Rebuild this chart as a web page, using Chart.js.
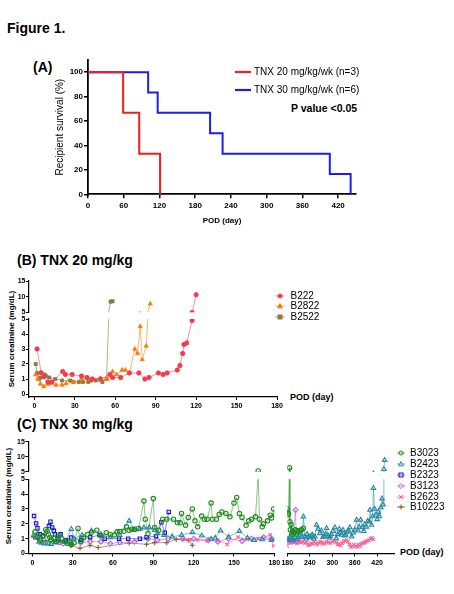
<!DOCTYPE html>
<html lang="en">
<head>
<meta charset="utf-8">
<title>Figure 1</title>
<script src="https://cdn.jsdelivr.net/npm/chart.js@4.4.1/dist/chart.umd.min.js"></script>
<style>
  html, body { margin: 0; padding: 0; background: #fff; }
  #page { position: relative; width: 454px; height: 594px; overflow: hidden; background: #fff;
          font-family: 'Liberation Sans', Arial, sans-serif; color: #000; }
  #page canvas { position: absolute; }
  .t { position: absolute; white-space: nowrap; line-height: 1; }
  .h { font-weight: bold; font-size: 14px; }
  .ytitle { position: absolute; white-space: nowrap; line-height: 1; font-size: 8px; font-weight: bold;
            transform: translate(-50%, -50%) rotate(-90deg); }
  .lg { position: absolute; }
  .lg svg { display: block; }
</style>
</head>
<body>
<div id="page">
  <div class="t h" style="left:7px; top:21px">Figure 1.</div>
  <div class="t h" style="left:33px; top:60px">(A)</div>
  <div class="t h" style="left:17px; top:253px">(B) TNX 20 mg/kg</div>
  <div class="t h" style="left:17px; top:417px">(C) TNX 30 mg/kg</div>
  <div class="t" style="left:291px; top:103px; font-size:10.5px; font-weight:bold">P value &lt;0.05</div>
  <div class="ytitle" style="left:12px; top:339px">Serum creatinine (mg/dL)</div>
  <div class="ytitle" style="left:9px; top:496px">Serum creatinine (mg/dL)</div>
  <div class="t" style="left:290px; top:393px; font-size:9px; font-weight:bold">POD (day)</div>
  <div class="t" style="left:400px; top:548px; font-size:9px; font-weight:bold">POD (day)</div>
  <canvas id="chartA"></canvas>
  <canvas id="chartBHigh"></canvas>
  <canvas id="chartBLow"></canvas>
  <canvas id="chartCHighL"></canvas>
  <canvas id="chartCLowL"></canvas>
  <canvas id="chartCHighR"></canvas>
  <canvas id="chartCLowR"></canvas>
</div>
<script>
// ---------- Panel A: recipient survival ----------
const kmLabels = ['TNX 20 mg/kg/wk (n=3)', 'TNX 30 mg/kg/wk (n=6)'];
const km20Days = [0, 59, 86, 121];
const km20Surv = [100, 66.7, 33.3, 0];
const km30Days = [0, 101, 117, 205, 226, 406, 441];
const km30Surv = [100, 83.3, 66.7, 50, 33.3, 16.7, 0];
const kmXTicks = [0, 60, 120, 180, 240, 300, 360, 420];
const kmYTicks = [0, 20, 40, 60, 80, 100];

// ---------- Panel B: TNX 20 mg/kg ----------
const bNames = ['B222', 'B2822', 'B2522'];
const b222Days = [2, 5, 7, 10, 13, 21, 23, 28, 35, 39, 43, 49, 56, 58, 64, 70.5, 77.5, 82, 85, 92, 95.5, 98.5, 106, 108, 110, 111, 113, 117, 120];
const b222Vals = [3.0, 1.42, 1.15, 0.8, 0.8, 1.5, 1.3, 1.3, 1.2, 1.1, 1.0, 1.0, 1.3, 1.1, 1.1, 1.4, 1.4, 1.0, 1.1, 1.4, 1.3, 1.4, 1.6, 1.9, 2.7, 3.3, 3.4, 4.9, 10.6];
const b2822Days = [1, 2.5, 4.5, 7, 10, 11, 16, 20.5, 23.5, 29, 35, 40, 49, 54, 58, 61, 65, 67.5, 70.5, 74.5, 76.5, 78.5, 80, 83, 86];
const b2822Vals = [1.3, 1.0, 0.67, 0.5, 0.67, 0.7, 0.6, 0.6, 0.7, 0.8, 1.0, 1.0, 1.05, 1.0, 1.5, 1.3, 1.6, 1.6, 1.4, 3.0, 2.7, 4.5, 2.3, 3.2, 7.7];
const b2522Days = [1, 2, 3.5, 4.5, 7.5, 8.5, 11, 15.5, 20.5, 26.5, 29, 33, 36, 40, 42, 45.5, 50.5, 53.5, 56.5, 58];
const b2522Vals = [2.0, 1.4, 1.0, 1.1, 1.3, 1.2, 1.1, 1.0, 0.9, 0.9, 0.8, 0.8, 0.8, 0.8, 0.9, 0.9, 0.8, 1.0, 8.4, 8.5];

// ---------- Panel C: TNX 30 mg/kg ----------
const cNames = ['B3023', 'B2423', 'B2323', 'B3123', 'B2623', 'B10223'];
const b3023Days = [2, 4, 6, 8, 10, 11, 12, 13, 14, 16, 18, 20, 22, 24, 26, 28, 29, 31, 34, 36, 38, 41, 44, 48, 51, 55, 58, 61, 63, 65, 68, 70, 72, 74, 76, 79, 83, 84, 86, 90, 91, 94, 97, 100, 105, 108, 110, 111, 114, 116, 119, 121, 123, 126, 128, 130, 133, 134, 137, 139, 141, 144, 147, 150, 152, 154, 156, 159, 161, 163, 166, 168, 169, 171, 172, 175, 177, 178, 179.5,
                   181, 183, 186, 187, 188, 190, 192, 194, 197, 201, 205, 209, 214, 218, 223];
const b3023Vals = [1.46, 1.17, 0.9, 1.2, 1.6, 1.5, 1.28, 1.08, 0.94, 1.0, 0.8, 1.2, 1.0, 0.83, 0.67, 0.72, 0.6, 0.72, 1.69, 0.83, 1.05, 1.28, 1.44, 1.57, 1.2, 1.4, 1.28, 1.24, 1.46, 1.48, 1.5, 1.8, 1.57, 1.64, 1.64, 1.69, 3.53, 2.31, 1.35, 3.7, 1.75, 1.57, 2.31, 2.31, 2.31, 2.07, 2.07, 2.7, 1.9, 2.43, 3.0, 2.2, 1.8, 2.52, 2.3, 2.31, 3.4, 2.31, 2.31, 2.63, 2.8, 2.7, 2.47, 3.4, 3.78, 2.7, 2.43, 1.9, 2.2, 2.31, 2.47, 5.3, 2.31, 1.8, 2.0, 2.2, 2.58, 2.4, 3.0,
                   2.6, 2.7, 6.4, 2.14, 1.6, 1.95, 1.3, 1.5, 1.4, 1.6, 1.55, 1.5, 1.55, 1.6, 1.7];
const b2423Days = [1, 3, 5, 7, 9, 12, 14, 17, 20, 24, 29, 31, 37, 44, 51, 58, 65, 72, 76, 80, 83, 87, 91, 93, 98, 104, 111, 119, 126, 133, 136, 140, 146, 154, 160, 165, 171, 178,
                   182, 184, 189, 193, 196, 200, 203, 206, 209, 213, 216, 220, 223, 227, 230, 233, 237, 240, 244, 247, 251, 254, 258, 263, 267, 271, 275, 279, 282, 285, 289, 292, 295, 298, 302, 307, 311, 315, 319, 322, 325, 329, 333, 336, 340, 343, 347, 352, 356, 360, 365, 369, 372, 376, 381, 384, 387, 391, 395, 399, 401, 405, 408, 410, 413, 416, 420, 423, 426, 430, 433, 436, 438, 440];
const b2423Vals = [1.24, 1.08, 0.79, 0.72, 0.67, 0.67, 0.63, 0.75, 0.9, 0.8, 1.64, 1.0, 1.24, 1.53, 1.28, 1.08, 1.24, 2.2, 1.6, 1.65, 1.75, 1.75, 1.57, 1.35, 1.24, 1.13, 1.24, 1.43, 1.2, 0.98, 1.05, 1.54, 1.12, 1.5, 1.05, 0.9, 0.95, 0.9,
                   1.0, 0.9, 1.13, 0.95, 0.9, 1.1, 1.25, 1.0, 1.07, 1.2, 1.36, 1.1, 2.48, 1.13, 1.0, 1.3, 1.15, 1.07, 1.2, 1.25, 1.0, 1.13, 1.92, 1.65, 1.36, 1.54, 1.1, 1.18, 1.3, 1.7, 1.2, 1.07, 1.15, 1.3, 1.5, 1.76, 1.02, 1.3, 1.65, 1.4, 1.25, 1.58, 1.2, 1.25, 1.45, 1.54, 1.76, 1.13, 1.4, 1.6, 2.26, 1.54, 1.8, 2.26, 1.76, 1.5, 1.96, 1.8, 2.2, 2.14, 2.93, 1.92, 2.5, 4.4, 3.0, 2.6, 2.3, 2.8, 2.5, 3.1, 3.7, 3.3, 5.9, 8.9];
const b2323Days = [1.3, 2.8, 3.8, 5.5, 8, 12.3, 13.5, 14.8, 16, 16.8, 19, 21, 25, 28.8, 36.3, 43, 50, 53.8, 64.5, 71.3, 80, 85, 92, 96, 98.5, 101.5];
const b2323Vals = [2.52, 2.03, 1.7, 1.29, 1.17, 1.85, 2.14, 1.76, 1.53, 1.29, 1.0, 1.29, 0.9, 1.07, 0.92, 1.1, 1.24, 1.0, 1.0, 1.0, 1.0, 1.1, 1.17, 2.1, 1.4, 2.8];
const b3123Days = [20, 23, 29, 36, 43, 51, 58, 65, 76, 86, 93, 101, 112, 120, 131, 138, 146, 156, 163, 172, 178, 185, 195, 202, 204];
const b3123Vals = [0.75, 0.67, 0.56, 0.72, 0.8, 0.8, 0.67, 0.75, 0.79, 1.0, 0.9, 1.0, 1.0, 1.0, 0.9, 0.8, 1.0, 0.85, 1.0, 1.1, 1.0, 0.9, 0.85, 2.93, 0.8];
const b2623Days = [112, 117, 123, 130, 138, 145, 153, 160, 168, 177, 179.5, 182, 186, 190, 194, 198, 202, 206, 210, 214, 218, 222, 227, 232, 236, 240, 244, 248, 252, 256, 260, 264, 268, 272, 276, 280, 285, 290, 295, 300, 305, 310, 314, 318, 322, 326, 330, 334, 338, 342, 346, 350, 354, 358, 362, 366, 370, 374, 378, 382, 386, 390, 394, 398, 402, 406, 410];
const b2623Vals = [0.95, 0.9, 0.91, 0.85, 0.9, 0.62, 1.1, 0.95, 1.0, 1.25, 0.51, 0.75, 0.8, 0.7, 0.85, 0.75, 0.8, 0.7, 0.75, 0.8, 0.75, 0.8, 0.7, 0.75, 0.55, 0.6, 0.7, 0.65, 0.8, 0.7, 0.6, 0.7, 0.8, 0.75, 0.65, 0.7, 0.8, 0.75, 0.7, 0.8, 0.85, 0.75, 0.6, 0.65, 0.55, 0.7, 0.8, 0.85, 0.9, 0.8, 0.6, 0.45, 0.5, 0.6, 0.5, 0.45, 0.6, 0.5, 0.65, 0.7, 0.75, 0.8, 0.85, 0.9, 1.0, 1.05, 0.95];
const b10223Days = [1, 4, 10, 16, 21, 25.5, 29, 35.5, 43, 49, 72, 85, 91, 100, 107, 116, 119];
const b10223Vals = [1.1, 0.95, 0.85, 0.8, 0.75, 0.8, 0.55, 0.35, 0.55, 0.4, 0.71, 0.62, 0.73, 0.73, 0.95, 0.9, 0.56];

// tick labels
const podTicksLeft = [0, 30, 60, 90, 120, 150, 180];
const podTicksRight = [180, 240, 300, 360, 420];
const crLowTicks = [0, 1, 2, 3, 4, 5];
const crHighTicks = [5, 10, 15];

// colours
const RED = '#f21d1d', BLUE = '#1d1df2';
const bColors = ['#f23a52', '#ff7a00', '#8a7a3c'];
const bLines = ['rgba(242,58,82,0.55)', 'rgba(255,122,0,0.55)', 'rgba(138,122,60,0.6)'];
const bStyles = ['circle', 'triangle', 'rect'];
const cColors = ['#1a8c1a', '#2788a6', '#1515c8', '#b565e0', '#ff5f93', '#8b5a20'];
const cLines = ['rgba(26,140,26,0.5)', 'rgba(39,136,166,0.55)', 'rgba(21,21,200,0.5)', 'rgba(181,101,224,0.6)', 'rgba(255,95,147,0.6)', 'rgba(139,90,32,0.6)'];
const cStyles = ['circle', 'triangle', 'rect', 'rectRot', 'crossRot', 'cross'];

Chart.defaults.font.family = "'Liberation Sans', Arial, sans-serif";
Chart.defaults.color = '#000';

function pts(days, vals) {
    return days.map((d, i) => ({ x: d, y: vals[i] }));
}

function placeCanvas(id, box) {
    const cv = document.getElementById(id);
    cv.width = box.w;
    cv.height = box.h;
    cv.style.left = box.x + 'px';
    cv.style.top = box.y + 'px';
    return cv;
}

// scale with fixed tick list and fixed box size
function scaleOpts(range, ticks, show, size, tickLen, pad, font, borderW) {
    return {
        type: 'linear',
        display: show,
        min: range[0],
        max: range[1],
        afterBuildTicks: s => { s.ticks = ticks.map(v => ({ value: v })); },
        afterFit: s => { if (s.isHorizontal()) s.height = size; else s.width = size; },
        ticks: { font: font, color: '#000', padding: pad, maxRotation: 0, autoSkip: false },
        grid: { drawOnChartArea: false, tickLength: tickLen, color: '#000', lineWidth: 1 },
        border: { color: '#000', width: borderW }
    };
}

// ---------- chart A ----------
(function () {
    const box = { x: 0, y: 50, w: 380, h: 182 };
    const area = { l: 88, t: 60, r: 356, b: 194.3 };
    const yw = 38, xh = 35.5;
    const tickFont = { size: 8, weight: 'bold' };
    const x = scaleOpts([0, 450], kmXTicks, true, xh, 4, 3, tickFont, 1.8);
    x.grid.lineWidth = 1.5;
    x.title = { display: true, text: 'POD (day)', font: { size: 8, weight: 'bold' }, color: '#000', padding: { top: 0, bottom: 4 } };
    const y = scaleOpts([0, 110], kmYTicks, true, yw, 4, 1, tickFont, 1.8);
    y.grid.lineWidth = 1.5;
    y.title = { display: true, text: 'Recipient survival (%)', font: { size: 10 }, color: '#000', padding: { top: 4, bottom: 0 } };

    new Chart(placeCanvas('chartA', box), {
        type: 'line',
        data: {
            datasets: [
                { label: kmLabels[0], data: pts(km20Days, km20Surv), borderColor: RED, borderWidth: 2, stepped: true, pointRadius: 0 },
                { label: kmLabels[1], data: pts(km30Days, km30Surv), borderColor: BLUE, borderWidth: 2, stepped: true, pointRadius: 0 }
            ]
        },
        options: {
            responsive: false, animation: false, devicePixelRatio: 1,
            layout: { padding: { left: area.l - box.x - yw, top: area.t - box.y, right: box.x + box.w - area.r, bottom: box.y + box.h - area.b - xh } },
            plugins: { legend: { display: false }, tooltip: { enabled: false } },
            scales: { x: x, y: y }
        }
    });
})();

// ---------- segments of the broken axes (B and C) ----------
const smallFont = { size: 7, weight: 'bold' };

function segment(id, box, area, xr, yr, xt, yt, showX, showY, datasets) {
    const yw = showY ? 17 : 0;
    const xh = showX ? 13 : 0;
    return new Chart(placeCanvas(id, box), {
        type: 'line',
        data: { datasets: datasets },
        options: {
            responsive: false, animation: false, devicePixelRatio: 1,
            layout: { padding: { left: area.l - box.x - yw, top: area.t - box.y, right: box.x + box.w - area.r, bottom: box.y + box.h - area.b - xh } },
            plugins: { legend: { display: false }, tooltip: { enabled: false } },
            scales: {
                x: scaleOpts(xr, xt, showX, xh, 3, 2, smallFont, 1.2),
                y: scaleOpts(yr, yt, showY, yw, 3, 0.5, smallFont, 1.2)
            }
        }
    });
}

function series(days, vals, color, line, style, filled, r) {
    return {
        data: pts(days, vals),
        borderColor: line,
        borderWidth: 1,
        tension: 0,
        pointStyle: style,
        pointRadius: r,
        pointBorderColor: color,
        pointBackgroundColor: filled ? color : 'rgba(255,255,255,0)',
        pointBorderWidth: filled ? 0.8 : 1.1
    };
}

function bSets() {
    return [
        series(b222Days, b222Vals, bColors[0], bLines[0], bStyles[0], true, 2.2),
        series(b2822Days, b2822Vals, bColors[1], bLines[1], bStyles[1], true, 2.4),
        series(b2522Days, b2522Vals, bColors[2], bLines[2], bStyles[2], true, 2.2)
    ];
}

function cSets() {
    return [
        series(b3023Days, b3023Vals, cColors[0], cLines[0], cStyles[0], false, 2.2),
        series(b2423Days, b2423Vals, cColors[1], cLines[1], cStyles[1], false, 2.6),
        series(b2323Days, b2323Vals, cColors[2], cLines[2], cStyles[2], false, 2.4),
        series(b3123Days, b3123Vals, cColors[3], cLines[3], cStyles[3], false, 2.5),
        series(b2623Days, b2623Vals, cColors[4], cLines[4], cStyles[4], false, 2.4),
        series(b10223Days, b10223Vals, cColors[5], cLines[5], cStyles[5], false, 2.5)
    ];
}

// panel B
segment('chartBHigh', { x: 0, y: 272, w: 300, h: 45 }, { l: 29, t: 281, r: 277, b: 313 },
        [-4, 180], [5, 15], podTicksLeft, crHighTicks, false, true, bSets());
segment('chartBLow', { x: 0, y: 310, w: 300, h: 100 }, { l: 29, t: 319, r: 277, b: 397 },
        [-4, 180], [-0.2, 5], podTicksLeft, crLowTicks, true, true, bSets());

// panel C
segment('chartCHighL', { x: 0, y: 432, w: 300, h: 45 }, { l: 28.3, t: 441.7, r: 274.3, b: 472.7 },
        [-3, 180], [5, 15], podTicksLeft, crHighTicks, false, true, cSets());
segment('chartCLowL', { x: 0, y: 470, w: 300, h: 105 }, { l: 28.3, t: 479.3, r: 274.3, b: 553.5 },
        [-3, 180], [0, 5], podTicksLeft, crLowTicks, true, true, cSets());
segment('chartCHighR', { x: 268, y: 432, w: 150, h: 45 }, { l: 287.3, t: 441.7, r: 394, b: 472.7 },
        [180, 465], [5, 15], podTicksRight, crHighTicks, false, false, cSets());
segment('chartCLowR', { x: 268, y: 470, w: 150, h: 105 }, { l: 287.3, t: 479.3, r: 394, b: 553.5 },
        [180, 465], [0, 5], podTicksRight, crLowTicks, true, false, cSets());

// ---------- legends ----------
function markerSvg(style, color, filled) {
    const a = `fill="${filled ? color : 'none'}" stroke="${color}" stroke-width="1"`;
    if (style === 'circle') return `<circle cx="8" cy="5" r="2" ${a}/>`;
    if (style === 'triangle') return `<polygon points="8,2.6 10.4,6.8 5.6,6.8" ${a}/>`;
    if (style === 'rect') return `<rect x="6" y="3" width="4" height="4" ${a}/>`;
    if (style === 'rectRot') return `<polygon points="8,2.4 10.6,5 8,7.6 5.4,5" ${a}/>`;
    if (style === 'crossRot') return `<path d="M6,3L10,7M10,3L6,7" stroke="${color}" stroke-width="1"/>`;
    if (style === 'cross') return `<path d="M8,2.5V7.5M5.5,5H10.5" stroke="${color}" stroke-width="1"/>`;
    return '';
}

function addText(txt, x, y, size) {
    const d = document.createElement('div');
    d.className = 't';
    d.style.left = x + 'px';
    d.style.top = (y - size / 2) + 'px';
    d.style.fontSize = size + 'px';
    d.textContent = txt;
    document.getElementById('page').appendChild(d);
}

function addLegend(names, colors, lines, styles, filled, mx, tx, y0, dy, half) {
    const page = document.getElementById('page');
    names.forEach((n, i) => {
        const y = y0 + i * dy;
        const s = document.createElement('div');
        s.className = 'lg';
        s.style.left = (mx - 8) + 'px';
        s.style.top = (y - 5) + 'px';
        s.innerHTML = `<svg width="16" height="10"><line x1="${8 - half}" y1="5" x2="${8 + half}" y2="5" stroke="${lines[i]}" stroke-width="1.2"/>${markerSvg(styles[i], colors[i], filled)}</svg>`;
        page.appendChild(s);
        addText(n, tx, y, 10);
    });
}

// legend A: line keys
kmLabels.forEach((n, i) => {
    const y = 72 + i * 17.5;
    const s = document.createElement('div');
    s.className = 'lg';
    s.style.left = '235px';
    s.style.top = (y - 2) + 'px';
    s.innerHTML = `<svg width="17" height="4"><line x1="0" y1="2" x2="16" y2="2" stroke="${i === 0 ? RED : BLUE}" stroke-width="2.2"/></svg>`;
    document.getElementById('page').appendChild(s);
    addText(n, 254, y, 10);
});

addLegend(bNames, bColors, bLines, bStyles, true, 280, 290.5, 295.5, 10.8, 4.5);
addLegend(cNames, cColors, cLines, cStyles, false, 401, 410, 453.3, 10.8, 4);
</script>
</body>
</html>
